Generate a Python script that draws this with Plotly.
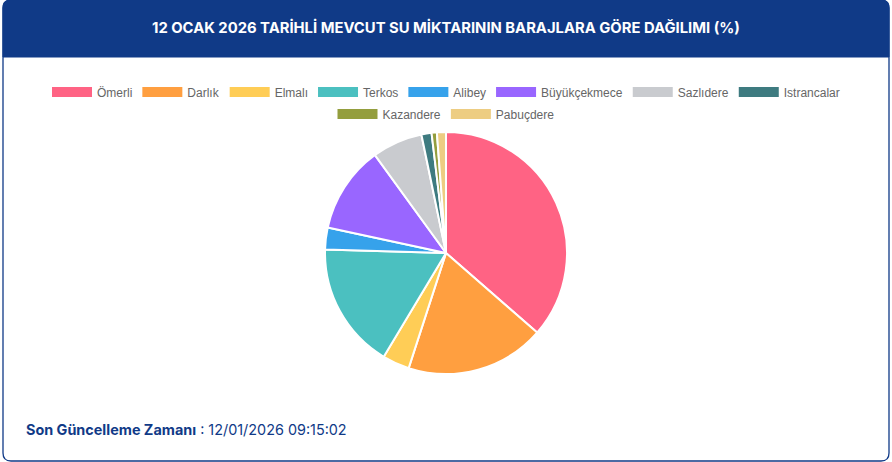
import plotly.graph_objects as go

W, H = 892, 462

# barajlar ve yüzdeler (grafikten okunan yaklaşık değerler)
barajlar = ["Ömerli", "Darlık", "Elmalı", "Terkos", "Alibey",
            "Büyükçekmece", "Sazlıdere", "Istrancalar", "Kazandere", "Pabuçdere"]
oranlar = [36.3, 18.5, 3.6, 16.8, 2.9, 11.6, 6.7, 1.35, 0.7, 1.2]
renkler = ["#FF6384", "#FF9F40", "#FFCD56", "#4BC0C0", "#36A2EB",
           "#9966FF", "#C9CBCF", "#3E7B80", "#949E3E", "#EDCD82"]
ilk_satir = 8  # ilk lejant satırındaki eleman sayısı

baslik = "12 OCAK 2026 TARİHLİ MEVCUT SU MİKTARININ BARAJLARA GÖRE DAĞILIMI (%)"
zaman = "12/01/2026 09:15:02"

LACI = "#103A87"


def px(x):
    return x / W


def py(y):
    return 1 - y / H


fig = go.Figure()

fig.add_trace(go.Pie(
    labels=barajlar, values=oranlar, sort=False, direction="clockwise",
    rotation=0, marker=dict(colors=renkler, line=dict(color="white", width=2)),
    textinfo="none", showlegend=False, hoverinfo="label+value",
    domain=dict(x=[px(325), px(567)], y=[py(374), py(132)]),
))

# Chart.js tarzı geniş lejant kutuları için sahte çizgi izleri
for i, (ad, renk) in enumerate(zip(barajlar, renkler)):
    fig.add_trace(go.Scatter(
        x=[None], y=[None], mode="lines", name=ad,
        line=dict(color=renk, width=10),
        legend="legend" if i < ilk_satir else "legend2",
    ))

lejant = dict(orientation="h", x=0.5, xanchor="center", yanchor="middle",
              font=dict(family="Liberation Sans, Arial", size=12, color="#666666"),
              itemwidth=40, bgcolor="rgba(0,0,0,0)", itemclick=False)

# kart çerçevesi ve başlık bandı
r = 8
kart = (f"M {px(3)},{py(r)} Q {px(3)},{py(0)} {px(3 + r)},{py(0)} "
        f"L {px(889 - r)},{py(0)} Q {px(889)},{py(0)} {px(889)},{py(r)} "
        f"L {px(889)},{py(461 - r)} Q {px(889)},{py(461)} {px(889 - r)},{py(461)} "
        f"L {px(3 + r)},{py(461)} Q {px(3)},{py(461)} {px(3)},{py(461 - r)} Z")
bant = (f"M {px(3)},{py(r)} Q {px(3)},{py(0)} {px(3 + r)},{py(0)} "
        f"L {px(889 - r)},{py(0)} Q {px(889)},{py(0)} {px(889)},{py(r)} "
        f"L {px(889)},{py(57)} L {px(3)},{py(57)} Z")

fig.update_layout(
    width=W, height=H, margin=dict(l=0, r=0, t=0, b=0),
    paper_bgcolor="white", plot_bgcolor="white",
    xaxis=dict(visible=False), yaxis=dict(visible=False),
    legend=dict(lejant, y=py(92)),
    legend2=dict(lejant, y=py(114)),
    shapes=[
        dict(type="path", path=kart, xref="paper", yref="paper",
             line=dict(color=LACI, width=1.3), fillcolor="rgba(0,0,0,0)", layer="below"),
        dict(type="path", path=bant, xref="paper", yref="paper",
             line=dict(color=LACI, width=1), fillcolor=LACI, layer="below"),
    ],
    annotations=[
        dict(text=f"<b>{baslik}</b>", x=0.5, y=py(28), xref="paper", yref="paper",
             showarrow=False, xanchor="center", yanchor="middle",
             font=dict(family="Inter, Noto Sans", size=14.8, color="white")),
        dict(text=f"<b>Son Güncelleme Zamanı</b> : {zaman}", x=px(24), y=py(429),
             xref="paper", yref="paper", showarrow=False, xanchor="left",
             yanchor="middle",
             font=dict(family="Inter, Noto Sans", size=14.4, color=LACI)),
    ],
)

fig.write_html("out.html", config={"displayModeBar": False},
               post_script="document.body.style.margin='0';")
